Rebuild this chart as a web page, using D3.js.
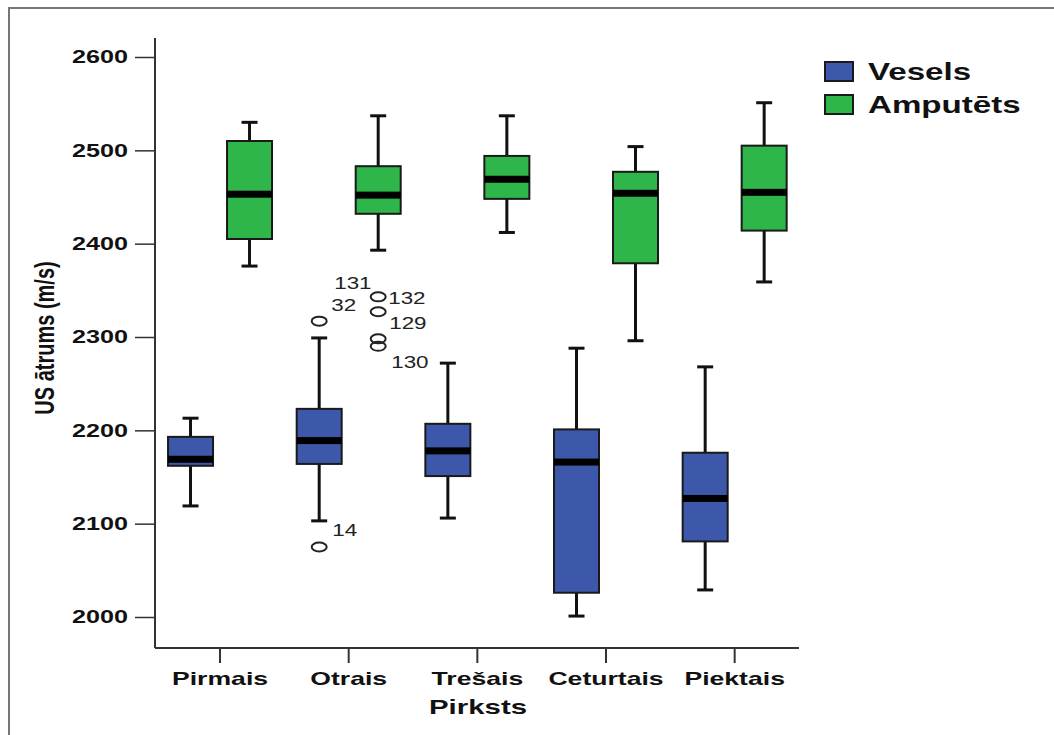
<!DOCTYPE html>
<html>
<head>
<meta charset="utf-8">
<script src="https://cdn.jsdelivr.net/npm/d3@7"></script>
<style>
  body { margin: 0; background: #fff; }
  svg text { font-family: "Liberation Sans", Arial, sans-serif; }
</style>
</head>
<body>
<div id="chart"></div>
<script>

var fingers = ["Pirmais", "Otrais", "Trešais", "Ceturtais", "Piektais"];
var groups = ["Vesels", "Amputēts"];

// [lower whisker, Q1, median, Q3, upper whisker]
var vesels = [
    [2119, 2162, 2169, 2193, 2213],
    [2103, 2164, 2189, 2223, 2299],
    [2106, 2151, 2178, 2207, 2272],
    [2001, 2026, 2166, 2201, 2288],
    [2029, 2081, 2127, 2176, 2268]
];
var amputets = [
    [2376, 2405, 2453, 2510, 2530],
    [2393, 2432, 2452, 2483, 2537],
    [2412, 2448, 2469, 2494, 2537],
    [2296, 2379, 2454, 2477, 2504],
    [2359, 2414, 2455, 2505, 2551]
];

var outliers = [
    {finger: "Otrais", group: "Vesels", value: 2317, id: "32"},
    {finger: "Otrais", group: "Vesels", value: 2075, id: "14"},
    {finger: "Otrais", group: "Amputēts", value: 2343, id: "132"},
    {finger: "Otrais", group: "Amputēts", value: 2327, id: "129"},
    {finger: "Otrais", group: "Amputēts", value: 2298, id: "131"},
    {finger: "Otrais", group: "Amputēts", value: 2290, id: "130"}
];

var yTicks = [2000, 2100, 2200, 2300, 2400, 2500, 2600];

var colors = {"Vesels": "#3d58aa", "Amputēts": "#2fb64a"};

var width = 1054,
    height = 735,
    plotTop = 38,
    plotBottom = 648,
    plotLeft = 155,
    plotRight = 799,
    boxWidth = 45,
    capWidth = 16,
    stretch = 1.4;   // the picture's text is drawn wider than normal

// label nudges for outlier ids (pixels from the circle)
var labelNudge = {
    "32": [12, -16], "14": [13, -17], "132": [10, 1],
    "129": [11, 11], "131": [-44, -56], "130": [13, 16]
};

var svg = d3.select("#chart").append("svg")
    .attr("width", width)
    .attr("height", height);

svg.append("rect")
    .attr("width", width).attr("height", height)
    .attr("fill", "#fff");

// frame round the chart (only top and left visible)
svg.append("rect")
    .attr("x", 9).attr("y", 8)
    .attr("width", 1200).attr("height", 900)
    .attr("fill", "none")
    .attr("stroke", "#777")
    .attr("stroke-width", 2);

var y = d3.scaleLinear()
    .domain([2000, 2600])
    .range([617, 57]);

var x = d3.scaleBand()
    .domain(fingers)
    .range([plotLeft + 0.7, plotRight]);

var xSub = d3.scalePoint()
    .domain(groups)
    .range([-29.5, 29.5]);

function cx(finger, group){
    return x(finger) + x.bandwidth() / 2 + xSub(group);
}

// y axis
var yAxis = svg.append("g")
    .attr("transform", "translate(" + plotLeft + ",0)")
    .call(d3.axisLeft(y).tickValues(yTicks).tickSize(20).tickPadding(0).tickFormat(d3.format("d")));

yAxis.select(".domain").remove();
yAxis.selectAll(".tick line").attr("stroke", "#333").attr("stroke-width", 1.5);
yAxis.selectAll(".tick text")
    .attr("x", -27 / stretch)
    .attr("transform", "scale(" + stretch + ",1)")
    .style("font-size", "18px")
    .style("font-weight", "bold")
    .attr("fill", "#111");

// x axis
var xAxis = svg.append("g")
    .attr("transform", "translate(0," + plotBottom + ")")
    .call(d3.axisBottom(x).tickSize(15).tickPadding(9));

xAxis.select(".domain").remove();
xAxis.selectAll(".tick line").attr("stroke", "#333").attr("stroke-width", 2);
xAxis.selectAll(".tick text")
    .attr("transform", "scale(" + stretch + ",1)")
    .style("font-size", "19px")
    .style("font-weight", "bold")
    .attr("fill", "#111");

// axis lines
svg.append("line")
    .attr("x1", plotLeft).attr("x2", plotLeft)
    .attr("y1", plotTop).attr("y2", plotBottom)
    .attr("stroke", "#333").attr("stroke-width", 2);
svg.append("line")
    .attr("x1", plotLeft).attr("x2", plotRight)
    .attr("y1", plotBottom).attr("y2", plotBottom)
    .attr("stroke", "#333").attr("stroke-width", 2);

// axis titles
svg.append("text")
    .attr("transform", "translate(478,714) scale(" + stretch + ",1)")
    .attr("text-anchor", "middle")
    .style("font-size", "21px")
    .style("font-weight", "bold")
    .attr("fill", "#111")
    .text("Pirksts");

svg.append("text")
    .attr("transform", "translate(54,338) scale(" + stretch + ",1) rotate(-90)")
    .attr("text-anchor", "middle")
    .style("font-size", "20px")
    .style("font-weight", "bold")
    .attr("fill", "#111")
    .text("US ātrums (m/s)");

// boxes
var rows = [];
fingers.forEach(function(f, i){
    rows.push({finger: f, group: "Vesels", s: vesels[i]});
    rows.push({finger: f, group: "Amputēts", s: amputets[i]});
});

var boxes = svg.selectAll(".box")
    .data(rows)
    .enter().append("g")
    .attr("class", "box")
    .attr("transform", function(d){
        return "translate(" + cx(d.finger, d.group) + ",0)";
    });

boxes.append("line")
    .attr("y1", function(d){ return y(d.s[0]); })
    .attr("y2", function(d){ return y(d.s[4]); })
    .attr("stroke", "#111")
    .attr("stroke-width", 3);

boxes.selectAll(".cap")
    .data(function(d){ return [d.s[0], d.s[4]]; })
    .enter().append("line")
    .attr("class", "cap")
    .attr("x1", -capWidth / 2).attr("x2", capWidth / 2)
    .attr("y1", function(v){ return y(v); })
    .attr("y2", function(v){ return y(v); })
    .attr("stroke", "#111")
    .attr("stroke-width", 3);

boxes.append("rect")
    .attr("x", -boxWidth / 2)
    .attr("width", boxWidth)
    .attr("y", function(d){ return y(d.s[3]); })
    .attr("height", function(d){ return y(d.s[1]) - y(d.s[3]); })
    .attr("fill", function(d){ return colors[d.group]; })
    .attr("stroke", "#1a1a1a")
    .attr("stroke-width", 2);

boxes.append("rect")
    .attr("x", -boxWidth / 2)
    .attr("width", boxWidth)
    .attr("y", function(d){ return y(d.s[2]) - 3.5; })
    .attr("height", 7)
    .attr("fill", "#000");

// outliers
var outs = svg.selectAll(".outlier")
    .data(outliers)
    .enter().append("g")
    .attr("class", "outlier")
    .attr("transform", function(d){
        return "translate(" + cx(d.finger, d.group) + "," + y(d.value) + ")";
    });

outs.append("ellipse")
    .attr("rx", 7.5)
    .attr("ry", 4.5)
    .attr("fill", "none")
    .attr("stroke", "#222")
    .attr("stroke-width", 2);

outs.append("text")
    .attr("transform", function(d){
        var n = labelNudge[d.id];
        return "translate(" + n[0] + "," + n[1] + ") scale(" + stretch + ",1)";
    })
    .attr("dy", "0.36em")
    .style("font-size", "16px")
    .attr("fill", "#222")
    .text(function(d){ return d.id; });

// legend
var legend = svg.selectAll(".legend")
    .data(groups)
    .enter().append("g")
    .attr("class", "legend")
    .attr("transform", function(d, i){
        return "translate(825," + (62 + i * 33) + ")";
    });

legend.append("rect")
    .attr("width", 28)
    .attr("height", 19)
    .attr("fill", function(d){ return colors[d]; })
    .attr("stroke", "#1a1a1a")
    .attr("stroke-width", 2);

legend.append("text")
    .attr("transform", "translate(43,18) scale(1.38,1)")
    .style("font-size", "24px")
    .style("font-weight", "bold")
    .attr("fill", "#111")
    .text(function(d){ return d; });

</script>
</body>
</html>
